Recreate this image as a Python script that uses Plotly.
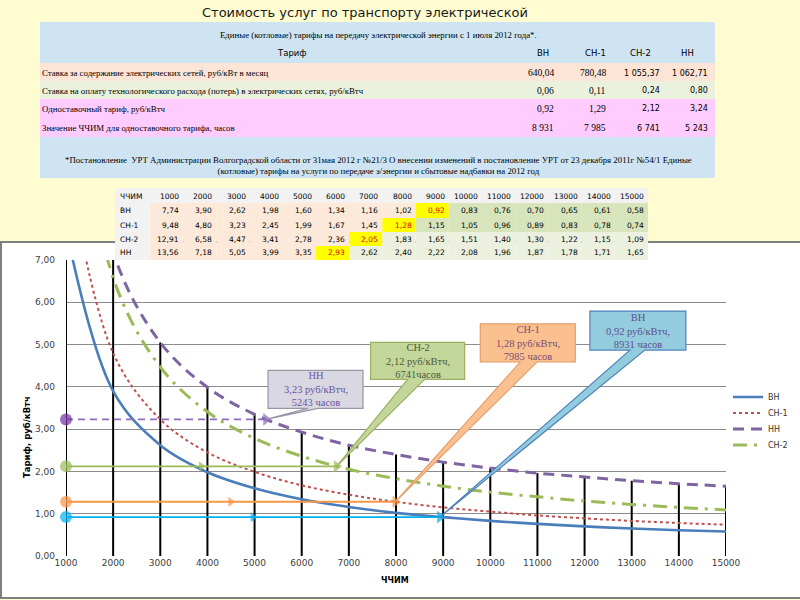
import plotly.graph_objects as go

W, H = 800, 600


def px(x):
    return x / W


def py(y):
    return 1 - y / H


# ---------------- data ----------------
chim = [1000, 2000, 3000, 4000, 5000, 6000, 7000, 8000, 9000, 10000, 11000, 12000, 13000, 14000, 15000]
vn = [7.74, 3.90, 2.62, 1.98, 1.60, 1.34, 1.16, 1.02, 0.92, 0.83, 0.76, 0.70, 0.65, 0.61, 0.58]
sn1 = [9.48, 4.80, 3.23, 2.45, 1.99, 1.67, 1.45, 1.28, 1.15, 1.05, 0.96, 0.89, 0.83, 0.78, 0.74]
sn2 = [12.91, 6.58, 4.47, 3.41, 2.78, 2.36, 2.05, 1.83, 1.65, 1.51, 1.40, 1.30, 1.22, 1.15, 1.09]
nn = [13.56, 7.18, 5.05, 3.99, 3.35, 2.93, 2.62, 2.40, 2.22, 2.08, 1.96, 1.87, 1.78, 1.71, 1.65]

row_labels = ["ВН", "СН-1", "СН-2", "НН"]
highlight_col = [8, 7, 6, 5]

callout_names = ["ВН", "СН-1", "СН-2", "НН"]
callout_rate = [0.92, 1.28, 2.12, 3.23]
callout_hours = [8931, 7985, 6741, 5243]
callout_rate_txt = ["0,92", "1,28", "2,12", "3,23"]
callout_hours_txt = ["8931 часов", "7985 часов", "6741часов", "5243 часов"]

ytick_vals = [0, 1, 2, 3, 4, 5, 6, 7]
ytick_text = ["0,00", "1,00", "2,00", "3,00", "4,00", "5,00", "6,00", "7,00"]

page_title = "Стоимость услуг по транспорту электрической"
t1_title = "Единые (котловые) тарифы на передачу электрической энергии с 1 июля 2012 года*."
t1_header = ["ВН", "СН-1", "СН-2", "НН"]
t1_rows = [
    "Ставка за содержание электрических сетей, руб/кВт в месяц",
    "Ставка на оплату технологического расхода (потерь) в электрических сетях, руб/кВтч",
    "Одноставочный тариф, руб/кВтч",
    "Значение ЧЧИМ для одноставочного тарифа, часов",
]
t1_vals = [
    ["640,04", "780,48", "1 055,37", "1 062,71"],
    ["0,06", "0,11", "0,24", "0,80"],
    ["0,92", "1,29", "2,12", "3,24"],
    ["8 931", "7 985", "6 741", "5 243"],
]
footnote = ("*Постановление  УРТ Администрации Волгоградской области от 31мая 2012 г №21/3 О внесении изменений в постановление УРТ от 23 декабря 2011г №54/1 Единые"
            "<br>(котловые) тарифы на услуги по передаче э/энергии и сбытовые надбавки на 2012 год")

# ---------------- styles ----------------
SANS = "DejaVu Sans"
SERIF = "Liberation Serif"
BG = "#FEFCD0"
SERIF_SIZE = 8.8

fig = go.Figure()

# vertical drop lines to the НН curve
vx, vy = [], []
for xv, yv in zip(chim, nn):
    vx += [xv, xv, None]
    vy += [0, yv, None]
fig.add_trace(go.Scatter(x=vx, y=vy, mode="lines", line=dict(color="black", width=2),
                         showlegend=False, hoverinfo="skip"))

curve_styles = {
    "ВН": dict(color="#4A7EBB", width=2.6, dash="solid", legend="legend"),
    "СН-1": dict(color="#C0504D", width=2, dash="dot", legend="legend2"),
    "НН": dict(color="#7F64A2", width=3, dash="11px,7px", legend="legend3"),
    "СН-2": dict(color="#9BBB59", width=3, dash="14px,7px,3px,7px", legend="legend4"),
}
curve_data = {"ВН": vn, "СН-1": sn1, "НН": nn, "СН-2": sn2}
for name in ["ВН", "СН-1", "НН", "СН-2"]:
    st = curve_styles[name]
    fig.add_trace(go.Scatter(x=chim, y=curve_data[name], mode="lines", name=name, legend=st["legend"],
                             line=dict(color=st["color"], width=st["width"], dash=st["dash"],
                                       shape="spline", smoothing=1.0),
                             hoverinfo="skip"))

# horizontal arrow lines
arrow_styles = {
    "ВН": dict(color="#00B0F0", width=1.6, dash="solid", mid=True, circ="#00B0F0"),
    "СН-1": dict(color="#F79646", width=2, dash="solid", mid=True, circ="#F79646"),
    "СН-2": dict(color="#9BBB59", width=1.6, dash="solid", mid=True, circ="#9BBB59"),
    "НН": dict(color="#8E6CC0", width=1.6, dash="7px,5px", mid=False, circ="#7030A0"),
}
for name, rate, hours in zip(callout_names, callout_rate, callout_hours):
    st = arrow_styles[name]
    start = chim[0]
    if st["mid"]:
        xs = [start, (start + hours) / 2, hours]
        syms = ["circle", "triangle-right", "triangle-right"]
        sizes = [12, 9, 11]
        cols = [st["circ"], st["color"], st["color"]]
    else:
        xs = [start, hours]
        syms = ["circle", "triangle-right"]
        sizes = [12, 11]
        cols = [st["circ"], st["color"]]
    fig.add_trace(go.Scatter(x=xs, y=[rate] * len(xs), mode="lines+markers",
                             line=dict(color=st["color"], width=st["width"], dash=st["dash"]),
                             marker=dict(symbol=syms, size=sizes, color=cols, line=dict(width=0)),
                             cliponaxis=False, showlegend=False, hoverinfo="skip"))

shapes = []
annotations = []

# page: chart white box
shapes.append(dict(type="rect", xref="paper", yref="paper", x0=px(1), x1=px(805), y0=py(598), y1=py(242),
                   fillcolor="white", line=dict(color="#7F7F7F", width=2), layer="below"))

# table 1
shapes.append(dict(type="rect", xref="paper", yref="paper", x0=px(40), x1=px(715), y0=py(178), y1=py(22),
                   fillcolor="#CFE4F2", line=dict(width=0), layer="below"))
row_bands = [(63, 81, "#FCE4D6"), (81, 99, "#EAF1DD"), (99, 137, "#FFCCFF")]
for y0, y1, c in row_bands:
    shapes.append(dict(type="rect", xref="paper", yref="paper", x0=px(40), x1=px(715), y0=py(y1), y1=py(y0),
                       fillcolor=c, line=dict(width=0), layer="below"))

annotations.append(dict(text=page_title, x=px(365), y=py(12), xref="paper", yref="paper", showarrow=False,
                        font=dict(family=SANS, size=13, color="#1A1A1A"), xanchor="center", yanchor="middle"))
annotations.append(dict(text=t1_title, x=px(378), y=py(35), xref="paper", yref="paper", showarrow=False,
                        font=dict(family=SERIF, size=SERIF_SIZE, color="black"), xanchor="center", yanchor="middle"))
annotations.append(dict(text="Тариф", x=px(292), y=py(53), xref="paper", yref="paper", showarrow=False,
                        font=dict(family=SANS, size=8.5, color="black"), xanchor="center", yanchor="middle"))
t1_head_x = [543, 595, 640, 687]
t1_val_x = [556, 608, 662, 710]
for hx, h in zip(t1_head_x, t1_header):
    annotations.append(dict(text=h, x=px(hx), y=py(53), xref="paper", yref="paper", showarrow=False,
                            font=dict(family=SANS, size=8.5, color="black"), xanchor="center", yanchor="middle"))
row_y = [73, 91, 109, 128]
for ry, lab, vals in zip(row_y, t1_rows, t1_vals):
    annotations.append(dict(text=lab, x=px(40), y=py(ry), xref="paper", yref="paper", showarrow=False,
                            font=dict(family=SERIF, size=SERIF_SIZE, color="black"), xanchor="left",
                            yanchor="middle"))
    for j, (vx_, v) in enumerate(zip(t1_val_x, vals)):
        fam = SANS if j >= 2 else SERIF
        fs = 8 if j >= 2 else 9.5
        annotations.append(dict(text=v, x=px(vx_), y=py(ry), xref="paper", yref="paper", showarrow=False,
                                font=dict(family=fam, size=fs, color="black"), xanchor="right", yanchor="middle"))
annotations.append(dict(text=footnote, x=px(378), y=py(165), xref="paper", yref="paper", showarrow=False,
                        font=dict(family=SERIF, size=SERIF_SIZE, color="black"), xanchor="center",
                        yanchor="middle", align="center"))

# table 2 (ЧЧИМ vs tariff)
t2_left, t2_lab_w, t2_cw = 115, 35, 33.2
t2_rows_y = [(188, 203), (203, 218), (218, 232), (232, 246), (246, 260)]
shapes.append(dict(type="rect", xref="paper", yref="paper", x0=px(t2_left), x1=px(t2_left + t2_lab_w + 15 * t2_cw),
                   y0=py(203), y1=py(188), fillcolor="#F2F2F2", line=dict(width=0), layer="below"))
green_dark = ["#D8E4BC", "#D8E4BC", "#EBF1DE", "#EBF1DE"]
data_rows = [vn, sn1, sn2, nn]
annotations.append(dict(text="ЧЧИМ", x=px(118), y=py(196), xref="paper", yref="paper", showarrow=False,
                        font=dict(family=SANS, size=7.5, color="black"), xanchor="left", yanchor="middle"))
for i, c in enumerate(chim):
    xr = t2_left + t2_lab_w + (i + 1) * t2_cw - 2
    annotations.append(dict(text=str(c), x=px(xr), y=py(196), xref="paper", yref="paper", showarrow=False,
                            font=dict(family=SANS, size=7.5, color="black"), xanchor="right", yanchor="middle"))
for r, (lab, vals) in enumerate(zip(row_labels, data_rows)):
    y0, y1 = t2_rows_y[r + 1]
    yc = (y0 + y1) / 2
    shapes.append(dict(type="rect", xref="paper", yref="paper", x0=px(t2_left), x1=px(t2_left + t2_lab_w),
                       y0=py(y1), y1=py(y0), fillcolor="#F2F2F2", line=dict(width=0), layer="below"))
    annotations.append(dict(text=lab, x=px(118), y=py(yc), xref="paper", yref="paper", showarrow=False,
                            font=dict(family=SANS, size=7.5, color="black"), xanchor="left", yanchor="middle"))
    for i, v in enumerate(vals):
        hc = highlight_col[r]
        if i < hc:
            fill = "#FDE9D9"
        elif i == hc:
            fill = "#FFFF00"
        else:
            fill = green_dark[r]
        x0 = t2_left + t2_lab_w + i * t2_cw
        shapes.append(dict(type="rect", xref="paper", yref="paper", x0=px(x0), x1=px(x0 + t2_cw),
                           y0=py(y1), y1=py(y0), fillcolor=fill, line=dict(width=0), layer="below"))
        annotations.append(dict(text=f"{v:.2f}".replace(".", ","), x=px(x0 + t2_cw - 2), y=py(yc),
                                xref="paper", yref="paper", showarrow=False,
                                font=dict(family=SANS, size=7.5, color="#E00000" if i == hc else "black"),
                                xanchor="right", yanchor="middle"))

# callouts (box + pointer, anchored at the data point, offsets in pixels)
callout_geo = {
    "ВН": dict(box=(150, 246, 167, 206), base=(190, 205), fill="#93CDDD", line="#4F81BD", font="#5F4F8F"),
    "СН-1": dict(box=(85, 180, 140, 178), base=(125, 142), fill="#FAC090", line="#E3A06A", font="#7A4F6F"),
    "СН-2": dict(box=(34, 128, 87, 124), base=(71, 88), fill="#C4D79B", line="#98B060", font="#4F5A3A"),
    "НН": dict(box=(2, 97, 11, 49), base=(42, 52), fill="#D9D7E1", line="#9A96A8", font="#6A55A0"),
}
for name, rate, hours, rtxt, htxt in zip(callout_names, callout_rate, callout_hours, callout_rate_txt,
                                         callout_hours_txt):
    g = callout_geo[name]
    bx0, bx1, by0, by1 = g["box"]
    b0, b1 = g["base"]
    path = (f"M {bx0},{by1} L {bx1},{by1} L {bx1},{by0} L {b1},{by0} L 0,0 L {b0},{by0} "
            f"L {bx0},{by0} Z")
    shapes.append(dict(type="path", xref="x", yref="y", xsizemode="pixel", ysizemode="pixel",
                       xanchor=hours, yanchor=rate, path=path, fillcolor=g["fill"],
                       line=dict(color=g["line"], width=1.2), layer="above"))
    annotations.append(dict(text=f"{name}<br>{rtxt} руб/кВтч,<br>{htxt}", x=hours, y=rate, xref="x", yref="y",
                            xshift=(bx0 + bx1) / 2, yshift=(by0 + by1) / 2, showarrow=False,
                            font=dict(family=SERIF, size=10.5, color=g["font"]), align="center",
                            xanchor="center", yanchor="middle"))

# axis titles
annotations.append(dict(text="<b>Тариф, руб/кВтч</b>", x=px(27), y=py(437), xref="paper", yref="paper",
                        showarrow=False, textangle=-90, font=dict(family=SANS, size=8.5, color="black"),
                        xanchor="center", yanchor="middle"))
annotations.append(dict(text="<b>ЧЧИМ</b>", x=px(395), y=py(580), xref="paper", yref="paper",
                        showarrow=False, font=dict(family=SANS, size=8, color="black"),
                        xanchor="center", yanchor="middle"))

legend_common = dict(x=px(728), xanchor="left", yanchor="middle", bgcolor="rgba(0,0,0,0)",
                     font=dict(family=SANS, size=8, color="#333333"), itemwidth=30)

fig.update_layout(
    width=W, height=H, autosize=False,
    margin=dict(l=0, r=0, t=0, b=0, autoexpand=False),
    paper_bgcolor=BG, plot_bgcolor="rgba(0,0,0,0)",
    shapes=shapes, annotations=annotations,
    showlegend=True,
    legend=dict(y=py(397), **legend_common),
    legend2=dict(y=py(413), **legend_common),
    legend3=dict(y=py(429), **legend_common),
    legend4=dict(y=py(445), **legend_common),
    xaxis=dict(domain=[px(66), px(726)], range=[1000, 15000], tickvals=chim, ticktext=[str(c) for c in chim],
               showgrid=False, zeroline=False, showline=False, ticks="", automargin=False,
               tickfont=dict(family=SANS, size=9, color="#404040")),
    yaxis=dict(domain=[py(556), py(260)], range=[0, 7], tickvals=ytick_vals, ticktext=ytick_text,
               showgrid=True, gridcolor="#8C8C8C", gridwidth=1.3, zeroline=False, showline=False, ticks="",
               automargin=False,
               tickfont=dict(family=SANS, size=9, color="#404040"), ticklabelstandoff=10),
)

fig.write_html("out.html", config={"displayModeBar": False},
               post_script="document.body.style.margin='0px';document.body.style.padding='0px';")
